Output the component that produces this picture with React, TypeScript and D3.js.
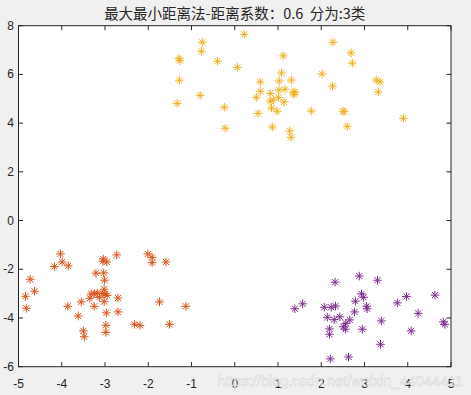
import React from "react";
import * as d3 from "d3";

const W = 471, H = 395;
const title = "最大最小距离法-距离系数：0.6  分为:3类";
const xTicks = [-5, -4, -3, -2, -1, 0, 1, 2, 3, 4, 5];
const yTicks = [-6, -4, -2, 0, 2, 4, 6, 8];

const cluster1: [number, number][] = [
  [-1.29, 6.66], [-1.27, 6.56], [-0.75, 7.32], [-0.77, 6.95], [0.22, 7.65], [-0.4, 6.54], [0.06, 6.29],
  [-1.28, 5.76], [-1.33, 4.81], [-0.8, 5.14], [-0.24, 4.65], [-0.22, 3.79], [1.12, 6.76], [1.08, 6.06],
  [1.31, 5.77], [0.59, 5.69], [1.03, 5.73], [0.59, 5.31], [0.5, 5.06], [0.82, 5.22], [1.02, 5.36],
  [1.16, 5.39], [1.35, 5.25], [1.39, 5.28], [1.37, 5.17], [0.82, 4.9], [0.89, 4.95], [1.01, 5.06],
  [1.14, 4.87], [0.85, 4.62], [0.98, 4.49], [0.54, 4.4], [0.87, 3.84], [1.27, 3.68], [1.3, 3.42],
  [2.27, 7.32], [2.69, 6.88], [2.72, 6.46], [2.02, 6.02], [2.26, 5.52], [1.77, 4.49], [2.5, 4.49],
  [2.53, 4.47], [2.6, 3.87], [3.27, 5.77], [3.36, 5.69], [3.32, 5.28], [3.9, 4.2],
];

const cluster2: [number, number][] = [
  [-4.03, -1.37], [-3.99, -1.7], [-4.17, -1.89], [-3.85, -1.86], [-4.73, -2.41], [-4.63, -2.9],
  [-4.84, -3.11], [-4.82, -3.6], [-3.04, -1.58], [-2.96, -1.7], [-3.05, -1.67], [-2.73, -1.41],
  [-3.21, -2.16], [-3.03, -2.15], [-3.01, -2.45], [-3.86, -3.52], [-3.55, -3.34], [-3.62, -3.92],
  [-3.32, -3.01], [-3.25, -3.01], [-3.35, -3.19], [-3.18, -2.97], [-3.13, -3.15], [-3.05, -3.0],
  [-3.0, -3.01], [-2.95, -3.07], [-3.02, -2.82], [-3.02, -3.33], [-3.25, -3.52], [-2.97, -3.79],
  [-2.7, -3.18], [-2.7, -3.75], [-3.5, -4.53], [-3.48, -4.77], [-2.98, -4.3], [-2.98, -4.59],
  [-2.01, -1.37], [-1.91, -1.51], [-1.91, -1.73], [-1.59, -1.7], [-1.74, -3.34], [-2.32, -4.26],
  [-2.19, -4.3], [-1.51, -4.26], [-1.13, -3.52],
];

const cluster3: [number, number][] = [
  [2.88, -2.28], [3.3, -2.45], [2.32, -2.53], [1.39, -3.62], [1.57, -3.42], [2.07, -3.56], [2.23, -3.56],
  [2.33, -3.51], [2.79, -3.31], [2.93, -3.01], [2.98, -3.15], [3.05, -3.52], [3.06, -3.62], [3.76, -3.38],
  [3.97, -3.12], [4.63, -3.06], [4.24, -3.81], [2.14, -3.97], [2.3, -4.07], [2.43, -3.95], [2.77, -3.75],
  [2.66, -4.08], [2.57, -4.22], [2.51, -4.36], [2.56, -4.46], [2.19, -4.45], [2.19, -4.67], [2.95, -4.46],
  [3.39, -4.12], [4.08, -4.53], [3.37, -5.08], [2.21, -5.68], [2.63, -5.6], [4.82, -4.16], [4.86, -4.26],
];

const seriesColors = ["#EDB120", "#D95319", "#7E2F8E"];

const L = 18.5, R = 451, T = 25.7, B = 366.7;

function Star({ cx, cy, color }: { cx: number; cy: number; color: string }) {
  const r = 4.3;
  const d = r * 0.7071;
  return (
    <path
      d={`M${cx - r},${cy}L${cx + r},${cy}M${cx},${cy - r}L${cx},${cy + r}M${cx - d},${cy - d}L${cx + d},${cy + d}M${cx - d},${cy + d}L${cx + d},${cy - d}`}
      stroke={color}
      strokeWidth={1}
      fill="none"
    />
  );
}

export default function App() {
  const x = d3.scaleLinear().domain([-5, 5]).range([L, R]);
  const y = d3.scaleLinear().domain([-6, 8]).range([B, T]);
  const axisColor = "#262626";
  const font = "Arial, 'Liberation Sans', Helvetica, sans-serif";
  const clusters = [cluster1, cluster2, cluster3];
  const tk = 4.5;
  return (
    <svg width={W} height={H} style={{ position: "absolute", left: 0, top: 0 }}>
      <rect x={0} y={0} width={W} height={H} fill="#f0f0f0" />
      <rect x={L} y={T} width={R - L} height={B - T} fill="#ffffff" />
      <text x={(L + R) / 2} y={19} textAnchor="middle" fontSize={14.5} xmlSpace="preserve"
        style={{ whiteSpace: "pre" }}
        fontFamily="'Noto Sans CJK SC', sans-serif" fill={axisColor}>{title}</text>
      {clusters.map((c, i) =>
        c.map((p, j) => <Star key={`${i}-${j}`} cx={x(p[0])} cy={y(p[1])} color={seriesColors[i]} />)
      )}
      <rect x={L} y={T} width={R - L} height={B - T} fill="none" stroke={axisColor} strokeWidth={1} />
      {xTicks.map((t) => (
        <g key={`x${t}`}>
          <line x1={x(t)} x2={x(t)} y1={B} y2={B - tk} stroke={axisColor} />
          <line x1={x(t)} x2={x(t)} y1={T} y2={T + tk} stroke={axisColor} />
          <text x={x(t)} y={388} textAnchor="middle" fontSize={12} fontFamily={font} fill={axisColor}>{t}</text>
        </g>
      ))}
      {yTicks.map((t) => (
        <g key={`y${t}`}>
          <line x1={L} x2={L + tk} y1={y(t)} y2={y(t)} stroke={axisColor} />
          <line x1={R} x2={R - tk} y1={y(t)} y2={y(t)} stroke={axisColor} />
          <text x={14} y={y(t) + 4} textAnchor="end" fontSize={12} fontFamily={font} fill={axisColor}>{t}</text>
        </g>
      ))}
      <text x={463} y={386} textAnchor="end" fontSize={14.5} fontFamily={font}
        fill="#ffffff" fillOpacity={0.75} stroke="#c8c8c8" strokeWidth={0.5} strokeOpacity={0.8}>
        https://blog.csdn.net/weixin_44044411
      </text>
    </svg>
  );
}
